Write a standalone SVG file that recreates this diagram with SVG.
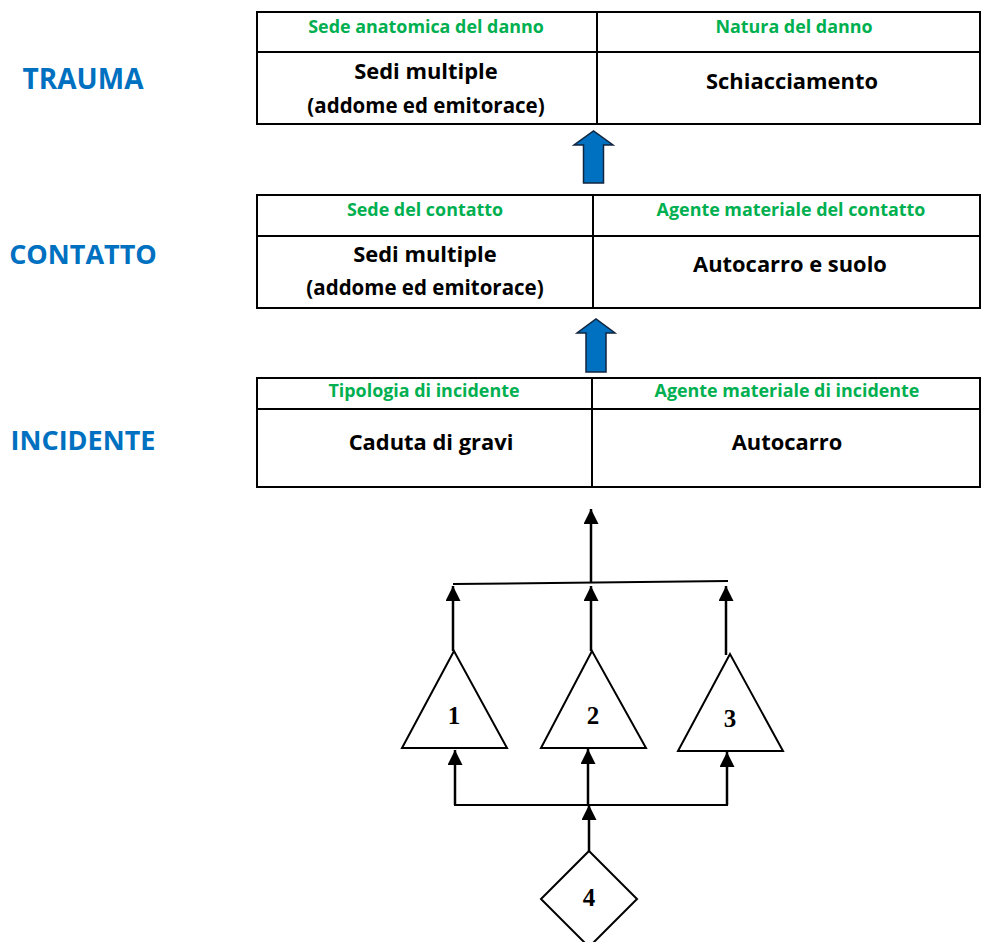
<svg xmlns="http://www.w3.org/2000/svg" width="981" height="942" viewBox="0 0 981 942">
<style>
.tb{fill:#fff;stroke:#000;stroke-width:2}
.ln{stroke:#000;stroke-width:2}
.hd{font-family:"Open Sans","Liberation Sans",sans-serif;font-weight:bold;font-size:17.9px;fill:#00B050;text-anchor:middle}
.bd{font-family:"Open Sans","Liberation Sans",sans-serif;font-weight:bold;font-size:21.9px;fill:#000;text-anchor:middle}
.sm{font-family:"Open Sans","Liberation Sans",sans-serif;font-weight:bold;font-size:20.5px;fill:#000;text-anchor:middle}
.lb{font-family:"Open Sans","Liberation Sans",sans-serif;font-weight:bold;font-size:27px;fill:#0070C0;text-anchor:middle}
.bl{fill:#0070C0;stroke:#10253F;stroke-width:1.5}
.sh{fill:#fff;stroke:#000;stroke-width:2}
.num{font-family:"Liberation Serif",serif;font-weight:bold;font-size:25px;fill:#000;text-anchor:middle}
.cn{stroke:#000;stroke-width:2.5;fill:none}
</style>
<defs>
<marker id="ah" viewBox="0 0 10 10" refX="10" refY="5" markerWidth="6" markerHeight="6" orient="auto" markerUnits="strokeWidth">
<path d="M0,0 L10,5 L0,10 z" fill="#000"/>
</marker>
</defs>

<g id="label-trauma"><text class="lb" x="83" y="89" style="font-size:28px">TRAUMA</text></g>
<g id="label-contatto"><text class="lb" x="83" y="264">CONTATTO</text></g>
<g id="label-incidente"><text class="lb" x="83" y="450">INCIDENTE</text></g>

<g id="table-trauma">
<rect class="tb" x="257" y="12" width="723" height="112"/>
<line class="ln" x1="257" y1="52" x2="980" y2="52"/>
<line class="ln" x1="597" y1="12" x2="597" y2="124"/>
<text class="hd" x="426" y="33">Sede anatomica del danno</text>
<text class="hd" x="794" y="33">Natura del danno</text>
<text class="bd" x="426" y="79">Sedi multiple</text>
<text class="sm" x="426" y="113">(addome ed emitorace)</text>
<text class="bd" x="792" y="89">Schiacciamento</text>
</g>

<g id="table-contatto">
<rect class="tb" x="257" y="195" width="723" height="113"/>
<line class="ln" x1="257" y1="236" x2="980" y2="236"/>
<line class="ln" x1="593" y1="195" x2="593" y2="308"/>
<text class="hd" x="425" y="216">Sede del contatto</text>
<text class="hd" x="791" y="216">Agente materiale del contatto</text>
<text class="bd" x="425" y="262">Sedi multiple</text>
<text class="sm" x="425" y="295">(addome ed emitorace)</text>
<text class="bd" x="790" y="272">Autocarro e suolo</text>
</g>

<g id="table-incidente">
<rect class="tb" x="257" y="378" width="723" height="109"/>
<line class="ln" x1="257" y1="409" x2="980" y2="409"/>
<line class="ln" x1="592" y1="378" x2="592" y2="487"/>
<text class="hd" x="424" y="397">Tipologia di incidente</text>
<text class="hd" x="787" y="397">Agente materiale di incidente</text>
<text class="bd" x="431" y="450">Caduta di gravi</text>
<text class="bd" x="787" y="450">Autocarro</text>
</g>

<g id="tri-1"><polygon class="sh" points="454,651 402,748 507,748"/><text class="num" x="454" y="724">1</text></g>
<g id="tri-2"><polygon class="sh" points="592,651 541,748 646,748"/><text class="num" x="593" y="724">2</text></g>
<g id="tri-3"><polygon class="sh" points="730,654 678,751 783,751"/><text class="num" x="730" y="727">3</text></g>
<g id="diamond-4"><polygon class="sh" points="589,851 637,899 589,947 541,899"/><text class="num" x="589" y="906">4</text></g>

<g id="connectors">
<path class="bl" d="M583.5,183 L583.5,145 L574,145 L593.5,131 L613,145 L603.5,145 L603.5,183 Z"/>
<path class="bl" d="M586,372 L586,333 L577,333 L596,319 L615,333 L606,333 L606,372 Z"/>
<line class="cn" x1="591" y1="582" x2="591" y2="509" marker-end="url(#ah)"/>
<line class="cn" x1="453" y1="584" x2="728" y2="581" style="stroke-width:2"/>
<line class="cn" x1="453" y1="651" x2="453" y2="586" marker-end="url(#ah)"/>
<line class="cn" x1="591" y1="651" x2="591" y2="586" marker-end="url(#ah)"/>
<line class="cn" x1="726" y1="655" x2="726" y2="586" marker-end="url(#ah)"/>
<polyline class="cn" points="455,750 455,805 727,805 727,752" style="stroke-width:2"/>
<line class="cn" x1="455" y1="805" x2="455" y2="750" marker-end="url(#ah)"/>
<line class="cn" x1="588" y1="805" x2="588" y2="749" marker-end="url(#ah)"/>
<line class="cn" x1="727" y1="805" x2="727" y2="752" marker-end="url(#ah)"/>
<line class="cn" x1="589" y1="851" x2="589" y2="805" marker-end="url(#ah)"/>
</g>
</svg>
